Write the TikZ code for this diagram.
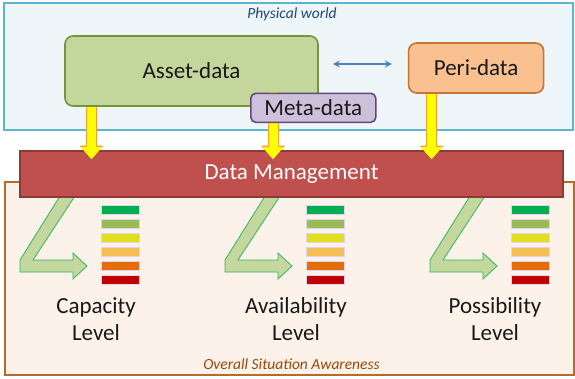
\documentclass[tikz,border=0pt]{standalone}
\usepackage{fontspec}
\setmainfont{Carlito}
\usetikzlibrary{arrows.meta}
\usetikzlibrary{positioning}

\definecolor{worldfill}{HTML}{EEF6FA}
\definecolor{worldline}{HTML}{5DB4CF}
\definecolor{worldtext}{HTML}{1F497D}
\definecolor{sitfill}{HTML}{FDF2EA}
\definecolor{sitline}{HTML}{B46B2E}
\definecolor{sittext}{HTML}{984807}
\definecolor{assetfill}{HTML}{C3D69B}
\definecolor{assetline}{HTML}{77933C}
\definecolor{perifill}{HTML}{FAC090}
\definecolor{periline}{HTML}{C2763A}
\definecolor{metafill}{HTML}{CCC0DA}
\definecolor{metaline}{HTML}{604A7B}
\definecolor{dmfill}{HTML}{C0504D}
\definecolor{dmline}{HTML}{8C3A38}
\definecolor{linkblue}{HTML}{4F81BD}
\definecolor{feedfill}{HTML}{FFFF00}
\definecolor{feedline}{HTML}{F5A030}
\definecolor{turnfill}{HTML}{C4D79E}
\definecolor{turnline}{HTML}{2EB85C}
\definecolor{gaugeline}{HTML}{DDD5EA}
\definecolor{lvA}{HTML}{00B050}
\definecolor{lvB}{HTML}{9BBB59}
\definecolor{lvC}{HTML}{E0E020}
\definecolor{lvD}{HTML}{F5BE55}
\definecolor{lvE}{HTML}{E46C0A}
\definecolor{lvF}{HTML}{C00000}

\begin{document}
\begin{tikzpicture}[
		x=1pt, y=-1pt,
		area/.style={line width=1.5pt},
		block/.style={draw, line width=1.6pt, rounded corners=8pt, align=center, inner sep=0pt, text=black!90, font=\fontsize{23}{27}\selectfont},
		tag/.style={font=\fontsize{15.5}{18}\selectfont\itshape},
		level/.style={align=center, inner sep=0pt, text=black!90, font=\fontsize{23}{27}\selectfont},
		feed/.style={draw=feedfill, line width=9pt, shorten >=-9pt, -{Triangle[width=21pt, length=12pt, line width=0pt 0 0]},
			preaction={draw=feedline, line width=11pt, -{Triangle[width=24pt, length=13.5pt, line width=0pt 0 0]}}},
		link/.style={draw=linkblue, line width=1.1pt, shorten <=14pt, shorten >=16pt, {Stealth[length=7pt, width=7pt]}-{Stealth[length=7pt, width=7pt]}},
		turn/.style={draw=turnline, fill=turnfill, line width=0.8pt},
		gauge/.style={draw=gaugeline, line width=0.6pt}
	]
	\useasboundingbox (0,0) rectangle (575,378);

	% the two areas
	\draw[area, draw=worldline, fill=worldfill] (4,3) rectangle (573,130);
	\draw[area, draw=sitline, fill=sitfill] (5,182) rectangle (574,375);
	\node[tag, text=worldtext] (world) at (292,14) {Physical world};
	\node[tag, text=sittext] (situation) at (291.5,364) {Overall Situation Awareness};

	% turn arrows and level gauges
	\foreach \dx in {0,205,410}{
		\draw[turn] (60+\dx,196) -- (75+\dx,196) -- (33+\dx,260) -- (73+\dx,260) -- (73+\dx,253) -- (87+\dx,266)
			-- (73+\dx,279) -- (73+\dx,272) -- (20+\dx,272) -- (20+\dx,260) -- cycle;
		\foreach \c [count=\j from 0] in {lvA,lvB,lvC,lvD,lvE,lvF}
			\draw[gauge, fill=\c] (101+\dx,205+14*\j) rectangle ++(38,9);
	}

	\node[level] (capacity) at (96,319) {Capacity\\Level};
	\node[level] (availability) at (296,319) {Availability\\Level};
	\node[level] (possibility) at (495,319) {Possibility\\Level};

	% data sources
	\node[block, fill=assetfill, draw=assetline, minimum width=253pt, minimum height=70pt] (asset) at (191.5,71) {Asset-data};
	\node[block, fill=perifill, draw=periline, minimum width=135pt, minimum height=50pt, right=89pt of asset, yshift=3pt] (peri) {Peri-data};
	\node[block, fill=dmfill, draw=dmline, rounded corners=0pt, text=white, minimum width=543pt, minimum height=46pt] (dm) at (291.5,174) {Data Management};

	\draw[feed] ([xshift=-100pt]asset.south) -- ([xshift=-100pt]asset.south |- dm.north);
	\draw[feed] ([xshift=81.5pt, yshift=15pt]asset.south) -- ([xshift=81.5pt]asset.south |- dm.north);
	\draw[feed] ([xshift=-44.5pt]peri.south) -- ([xshift=-44.5pt]peri.south |- dm.north);

	\node[block, fill=metafill, draw=metaline, rounded corners=5pt, minimum width=125pt, minimum height=29pt] (meta) at ([xshift=-5.5pt, yshift=-1pt]asset.south east) {Meta-data};

	\draw[link] ([yshift=7pt]asset.east) -- ([yshift=4pt]peri.west);
\end{tikzpicture}
\end{document}
